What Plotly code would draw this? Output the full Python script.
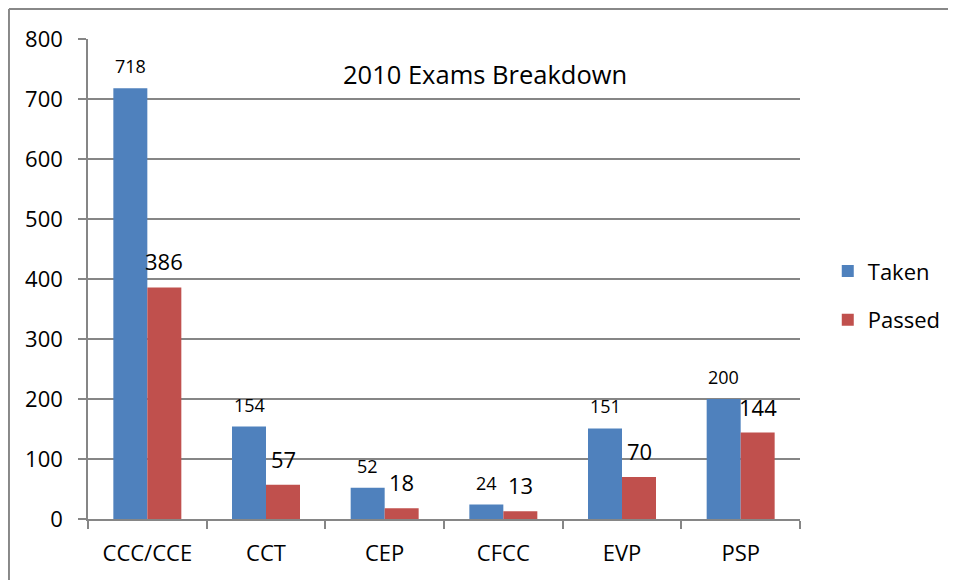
import plotly.graph_objects as go

categories = ["CCC/CCE", "CCT", "CEP", "CFCC", "EVP", "PSP"]
taken = [718, 154, 52, 24, 151, 200]
passed = [386, 57, 18, 13, 70, 144]
y_ticks = [0, 100, 200, 300, 400, 500, 600, 700, 800]
title_text = "2010 Exams Breakdown"

BLUE = "#4F81BD"
RED = "#C0504D"
GRID = "#868686"
FONT = "Open Sans"
FS = 22

fig = go.Figure()
fig.add_trace(go.Bar(x=categories, y=taken, name="Taken", marker=dict(color=BLUE, line=dict(width=0)),
                     legendgroup="a"))
fig.add_trace(go.Bar(x=categories, y=passed, name="Passed", marker=dict(color=RED, line=dict(width=0)),
                     legendgroup="b"))

annotations = []
for c, v in zip(categories, taken):
    annotations.append(dict(x=c, y=v, xref="x", yref="y", text=str(v), showarrow=False,
                            xshift=-17, yshift=22, yanchor="middle",
                            font=dict(family=FONT, size=18, color="black")))
for c, v in zip(categories, passed):
    annotations.append(dict(x=c, y=v, xref="x", yref="y", text=str(v), showarrow=False,
                            xshift=17, yshift=26, yanchor="middle",
                            font=dict(family=FONT, size=FS, color="black")))
annotations.append(dict(x=0.557, y=0.928, xref="paper", yref="paper", text=title_text, showarrow=False,
                        xanchor="center", yanchor="middle",
                        font=dict(family=FONT, size=25.5, color="black")))

BORDER = dict(color="#888888", width=2)

fig.update_layout(
    width=948, height=572,
    margin=dict(l=80, r=156, t=31, b=61, autoexpand=False),
    paper_bgcolor="white", plot_bgcolor="white",
    barmode="group", bargap=0.427, bargroupgap=0,
    font=dict(family=FONT, size=FS, color="black"),
    showlegend=True,
    legend=dict(x=1.039, y=0.465, xanchor="left", yanchor="middle",
                font=dict(family=FONT, size=FS, color="black"),
                tracegroupgap=17, bgcolor="rgba(0,0,0,0)"),
    annotations=annotations,
    xaxis=dict(type="category", showline=True, linecolor=GRID, linewidth=1.5,
               ticks="outside", ticklen=8, tickcolor=GRID, tickwidth=1.5, tickson="boundaries",
               showgrid=False, tickfont=dict(family=FONT, size=FS, color="black"),
               range=[-0.5, 5.5], fixedrange=True, ticklabelstandoff=14),
    yaxis=dict(range=[0, 800], tickvals=y_ticks, showline=True, linecolor=GRID, linewidth=1.5,
               ticks="outside", ticklen=8, tickcolor=GRID, tickwidth=1.5,
               showgrid=True, gridcolor=GRID, gridwidth=1.5, zeroline=False,
               tickfont=dict(family=FONT, size=FS, color="black"), ticklabelstandoff=11),
    shapes=[
        dict(type="line", xref="paper", yref="paper", x0=-0.111, y0=-0.2, x1=-0.111, y1=1.0625,
             line=BORDER, layer="below"),
        dict(type="line", xref="paper", yref="paper", x0=-0.111, y0=1.0625, x1=1.3, y1=1.0625,
             line=BORDER, layer="below"),
    ],
)

fig.write_html("out.html")
